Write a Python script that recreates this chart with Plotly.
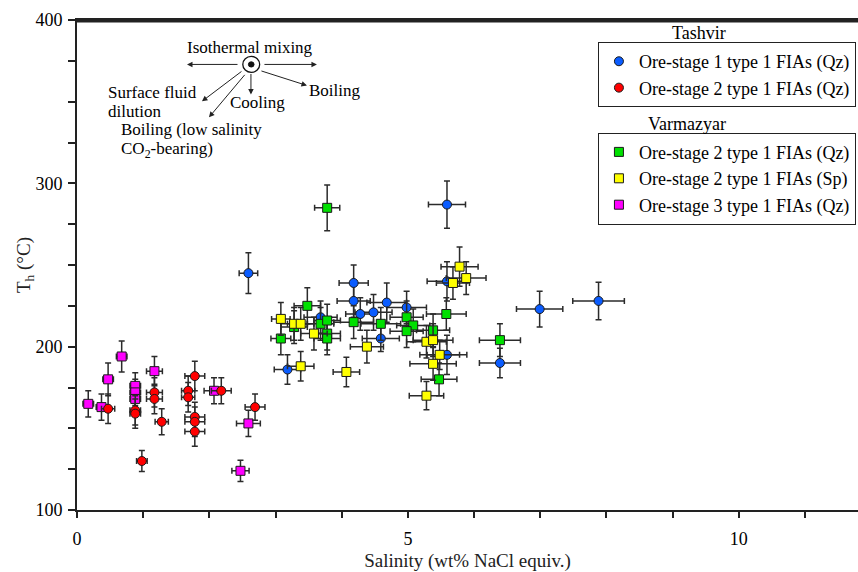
import plotly.graph_objects as go

# ---- data ----
blue_x = [2.59, 3.18, 3.68, 4.18, 4.18, 4.28, 4.48, 4.68, 4.98, 4.59, 5.59, 5.59, 5.59, 6.99, 7.88, 6.39]
blue_y = [245, 186, 218, 239, 228, 220, 221, 227, 224, 205, 287, 240, 195, 223, 228, 190]
blue_ex = [0.14, 0.2, 0.25, 0.22, 0.25, 0.22, 0.28, 0.3, 0.3, 0.28, 0.28, 0.3, 0.3, 0.35, 0.39, 0.31]
blue_ey = [12.5, 9, 10, 11, 10, 10, 11, 12, 10, 8, 14.5, 12, 12, 11, 11.5, 9]

red_x = [0.47, 0.88, 0.88, 0.98, 1.17, 1.17, 1.28, 1.68, 1.68, 1.78, 1.78, 1.78, 1.78, 2.18, 2.69]
red_y = [162, 161, 159, 130, 172, 168, 154, 173, 169, 182, 157, 154, 148, 173, 163]
red_ex = [0.1, 0.08, 0.08, 0.08, 0.12, 0.12, 0.1, 0.1, 0.1, 0.15, 0.15, 0.15, 0.15, 0.15, 0.15]
red_ey = [9, 9, 9, 6.5, 9, 9, 8, 9, 9, 9, 9, 9, 9, 8, 8]

green_x = [3.78, 3.48, 3.08, 3.68, 3.78, 3.78, 3.78, 3.28, 4.18, 4.59, 4.98, 5.08, 4.98, 5.38, 5.58, 6.39, 5.47]
green_y = [285, 225, 205, 214, 216, 208, 205, 212, 215, 214, 218, 213, 209.5, 210, 220, 204, 180]
green_ex = [0.19, 0.2, 0.15, 0.2, 0.2, 0.2, 0.2, 0.2, 0.3, 0.3, 0.25, 0.25, 0.25, 0.25, 0.3, 0.31, 0.27]
green_ey = [14, 11, 10, 10, 10, 10, 10, 10, 10, 10, 10, 10, 10, 10, 10, 10, 10]

yellow_x = [3.08, 3.28, 3.38, 3.58, 3.38, 4.07, 4.38, 5.78, 5.88, 5.68, 5.28, 5.38, 5.48, 5.38, 5.28]
yellow_y = [217, 214, 214, 208, 188, 184.5, 200, 249, 242, 239, 203, 204, 195, 189.5, 170]
yellow_ex = [0.14, 0.2, 0.2, 0.2, 0.2, 0.2, 0.25, 0.28, 0.3, 0.25, 0.3, 0.3, 0.3, 0.35, 0.26]
yellow_ey = [10, 10, 10, 10, 9, 9, 10, 12, 10, 10, 10, 10, 9, 10, 8.6]

magenta_x = [0.17, 0.37, 0.47, 0.675, 0.88, 0.88, 0.88, 1.17, 2.07, 2.59, 2.47]
magenta_y = [165, 163, 180, 194, 176, 172, 168, 185, 173, 153, 124]
magenta_ex = [0.08, 0.08, 0.08, 0.08, 0.08, 0.08, 0.08, 0.12, 0.15, 0.18, 0.13]
magenta_ey = [8, 8, 10, 9.5, 8, 8, 8, 9, 8, 8, 6.5]

FONT = "Liberation Serif"
ERR = "#2b2b2b"

def trace(x, y, ex, ey, name, color, symbol, legend):
    return go.Scatter(
        x=x, y=y, mode="markers", name=name, legend=legend,
        marker=dict(color=color, symbol=symbol, size=9, line=dict(color="#1a1a1a", width=1)),
        error_x=dict(type="data", array=ex, color=ERR, thickness=1.5, width=3),
        error_y=dict(type="data", array=ey, color=ERR, thickness=1.5, width=3),
    )

fig = go.Figure()
fig.add_trace(trace(blue_x, blue_y, blue_ex, blue_ey, "Ore-stage 1 type 1 FIAs (Qz)", "#0a5cff", "circle", "legend"))
fig.add_trace(trace(green_x, green_y, green_ex, green_ey, "Ore-stage 2 type 1 FIAs (Qz)", "#00e000", "square", "legend2"))
fig.add_trace(trace(yellow_x, yellow_y, yellow_ex, yellow_ey, "Ore-stage 2 type 1 FIAs (Sp)", "#ffff00", "square", "legend2"))
fig.add_trace(trace(magenta_x, magenta_y, magenta_ex, magenta_ey, "Ore-stage 3 type 1 FIAs (Qz)", "#ff00ff", "square", "legend2"))
fig.add_trace(trace(red_x, red_y, red_ex, red_ey, "Ore-stage 2 type 1 FIAs (Qz)", "#ff0000", "circle", "legend"))

# ---- process diagram (arrows + labels) ----
arrows = [  # head x, head y (data), tail offset ax, ay (pixels)
    (1.662, 372.8, 52, 0),
    (3.625, 372.8, -54, 0),
    (2.628, 354.4, 0, -22),
    (3.474, 359.9, -47, -15),
    (1.888, 350.2, 41, -31),
    (1.994, 340.4, 37, -44),
]
for hx, hy, ax, ay in arrows:
    fig.add_annotation(x=hx, y=hy, ax=ax, ay=ay, axref="pixel", ayref="pixel",
                       text="", showarrow=True, arrowhead=2, arrowsize=1.1,
                       arrowwidth=1, arrowcolor="#222")

labels = [
    ("Isothermal mixing", 2.613, 383.2, "center"),
    ("Surface fluid", 0.453, 355.6, "left"),
    ("dilution", 0.453, 344.0, "left"),
    ("Cooling", 2.296, 349.5, "left"),
    ("Boiling", 3.489, 356.9, "left"),
    ("Boiling (low salinity", 0.65, 332.8, "left"),
    ("CO<sub>2</sub>-bearing)", 0.65, 320.6, "left"),
]
for t, x, y, anc in labels:
    fig.add_annotation(x=x, y=y, text=t, showarrow=False, xanchor=anc, yanchor="middle",
                       borderpad=0, font=dict(family=FONT, size=17, color="black"))

# outer circle with dot
fig.add_shape(type="circle", xref="x", yref="y", x0=2.505, x1=2.76, y0=367.9, y1=377.7,
              line=dict(color="#111", width=1.3), fillcolor="white")
fig.add_shape(type="circle", xref="x", yref="y", x0=2.59, x1=2.675, y0=371.2, y1=374.4,
              line=dict(color="#111", width=1), fillcolor="#111")
# top frame line, in data coordinates at the top of the range
fig.add_shape(type="line", xref="x", yref="y", x0=0, x1=11.8, y0=399.3, y1=399.3,
              layer="above", line=dict(color="#222", width=2.5))

# legend group titles
fig.add_annotation(xref="paper", yref="paper", x=0.834, y=0.973, text="Tashvir", showarrow=False,
                   yanchor="middle", font=dict(family=FONT, size=18, color="black"))
fig.add_annotation(xref="paper", yref="paper", x=0.834, y=0.788, text="Varmazyar", showarrow=False,
                   yanchor="middle", font=dict(family=FONT, size=18, color="black"))

leg_common = dict(font=dict(family=FONT, size=18, color="black"), bordercolor="#222",
                  borderwidth=1, bgcolor="white", xanchor="left", yanchor="top")
fig.update_layout(
    width=858, height=572,
    margin=dict(l=77, r=0, t=20, b=62),
    plot_bgcolor="white", paper_bgcolor="white",
    font=dict(family=FONT, color="black"),
    legend=dict(x=0.667, y=0.955, **leg_common),
    legend2=dict(x=0.667, y=0.77, **leg_common),
    xaxis=dict(range=[0, 11.8], tick0=0, dtick=5, showgrid=False, zeroline=False,
               showline=True, linecolor="#222", linewidth=2, mirror=True,
               ticks="outside", ticklen=6, tickwidth=1.5, tickcolor="#222",
               minor=dict(dtick=1, ticks="outside", ticklen=6, tickwidth=1.5, tickcolor="#222"),
               tickfont=dict(family=FONT, size=18, color="black"), ticklabelstandoff=5,
               title=dict(text="Salinity (wt% NaCl equiv.)", font=dict(family=FONT, size=19, color="#222"),
                          standoff=6)),
    yaxis=dict(range=[100, 400], tick0=100, dtick=100, showgrid=False, zeroline=False,
               showline=True, linecolor="#222", linewidth=2, ticklabeloverflow="allow",
               ticks="outside", ticklen=7, tickwidth=1.5, tickcolor="#222",
               minor=dict(dtick=25, ticks="outside", ticklen=7, tickwidth=1.5, tickcolor="#222"),
               tickfont=dict(family=FONT, size=18, color="black"), ticklabelstandoff=2,
               title=dict(text="T<sub>h</sub> (°C)", font=dict(family=FONT, size=19, color="#222"),
                          standoff=0)),
)

# remove the default page margin so the figure sits at the window's top-left corner
fig.write_html("out.html", config={"displayModeBar": False},
               post_script="document.body.style.margin='0px';")
